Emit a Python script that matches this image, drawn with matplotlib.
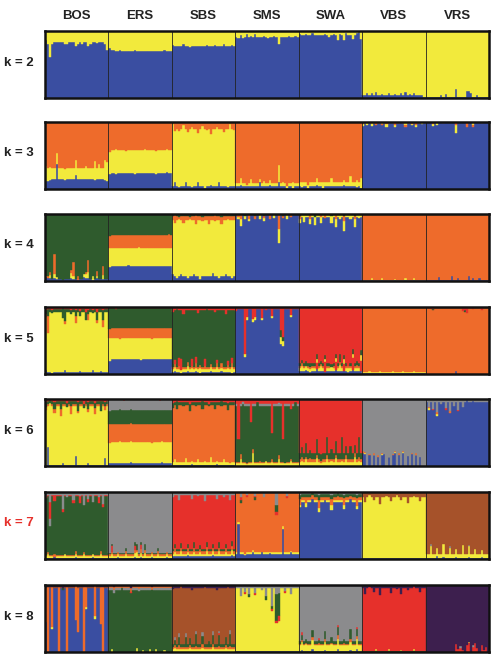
import matplotlib.pyplot as plt

plt.rcParams['font.family'] = ['Liberation Sans', 'DejaVu Sans']

pops = ["BOS", "ERS", "SBS", "SMS", "SWA", "VBS", "VRS"]
k_values = [2, 3, 4, 5, 6, 7, 8]
n_ind = 30  # individuals per population

colors = {
    "B": "#3a4ea1", "Y": "#f2ea3c", "O": "#ee6b2b", "G": "#2f5b2d",
    "R": "#e6302b", "E": "#8b8b8d", "N": "#a6522a", "P": "#3d1f4e",
}

# one entry per population:
# (bottom layers, filling cluster, top layers from the top down,
#  bottom layers of single individuals, top layers of single individuals)
k2 = [
    ("", "B", "Y.17", {},
     {0: "Y.13", 1: "Y.19", 2: "Y.39", 3: "Y.19", 6: "Y.16", 9: "Y.2", 10: "Y.2", 14: "Y.22",
      15: "Y.19", 17: "Y.2", 20: "Y.23", 21: "Y.19", 24: "Y.18", 28: "Y.19", 29: "Y.28"}),
    ("", "B", "Y.295", {},
     {0: "Y.26", 1: "Y.28", 2: "Y.28", 5: "Y.28", 9: "Y.3", 12: "Y.29", 20: "Y.3", 26: "Y.29"}),
    ("", "B", "Y.23", {},
     {0: "Y.21", 3: "Y.22", 5: "Y.2", 8: "Y.24", 12: "Y.22", 16: "Y.21", 20: "Y.21", 24: "Y.2", 28: "Y.21"}),
    ("", "B", "Y.09", {},
     {1: "Y.1", 2: "Y.06", 3: "Y.11", 5: "Y.04", 7: "Y.07", 9: "Y.05", 10: "Y.09", 13: "Y.07",
      15: "Y.1", 18: "Y.08", 20: "Y.19", 22: "Y.09", 25: "Y.08", 28: "Y.07"}),
    ("", "B", "Y.06", {},
     {0: "Y.04", 3: "Y.05", 6: "Y.03", 8: "Y.06", 12: "Y.04", 14: "Y.09", 16: "Y.04", 18: "Y.13",
      19: "Y.05", 21: "Y.13", 22: "Y.03", 24: "Y.06", 25: "Y.12", 27: "Y.03", 28: "Y.02", 29: "Y.12"}),
    ("B.04", "Y", "", {2: "B.08", 4: "B.07", 6: "B.09", 9: "B.06", 12: "B.07", 15: "B.06",
                       18: "B.08", 20: "B.09", 22: "B.06", 24: "B.08", 27: "B.05", 29: "B.02"}, {}),
    ("B.02", "Y", "", {7: "B.05", 9: "B.06", 14: "B.13", 19: "B.1", 20: "B.1", 21: "B.08", 24: "B.04"}, {}),
]

k3 = [
    ("B.15 Y.17", "O", "",
     {0: "B.12 Y.22", 1: "B.12 Y.2", 2: "B.13 Y.2", 5: "B.38 Y.15", 9: "B.14 Y.16", 14: "B.21 Y.22",
      19: "B.15 Y.2", 23: "B.14 Y.28", 25: "B.15 Y.22", 28: "B.13 Y.3", 29: "B.12 Y.28"}, {}),
    ("B.24 Y.34", "O", "",
     {0: "B.22 Y.33", 3: "B.23 Y.36", 8: "B.24 Y.33", 12: "B.23 Y.35", 17: "B.24 Y.36",
      22: "B.23 Y.34", 27: "B.25 Y.35"}, {}),
    ("B.05", "Y", "O.1",
     {1: "B.1", 3: "B.03", 6: "B.11", 9: "B.03", 12: "B.1", 15: "B.02", 18: "B.06", 22: "B.1",
      26: "B.03", 29: "B.04"},
     {0: "O.03", 1: "O.14", 3: "O.13", 5: "O.05", 7: "O.15", 9: "O.07", 12: "O.17", 14: "O.06",
      16: "O.12", 18: "O.18", 21: "O.08", 24: "O.15", 27: "O.03", 29: "O.12"}),
    ("B.05 Y.04", "O", "",
     {2: "B.06 Y.1", 5: "B.04 Y.02", 7: "B.05 Y.1", 11: "B.1 Y.05", 13: "B.04 Y.08", 16: "B.06 Y.08",
      20: "B.1 Y.26", 22: "B.05 Y.06", 24: "B.02 Y.02", 27: "B.02 Y.08"}, {}),
    ("B.04 Y.06", "O", "",
     {1: "B.03 Y.08", 4: "B.02 Y.04", 8: "B.06 Y.1", 11: "B.02 Y.08", 15: "B.05 Y.12", 18: "B.04 Y.06",
      21: "B.06 Y.08", 24: "B.05 Y.15", 27: "B.03 Y.1", 29: "B.02 Y.14"}, {}),
    ("", "B", "O.01 Y.01", {},
     {0: "O.03 Y.03", 2: "Y.05", 4: "O.02 Y.04", 6: "O.04", 9: "Y.03 O.02", 11: "O.03 Y.05",
      13: "Y.02", 15: "O.05 Y.03", 18: "O.02", 20: "Y.04 O.03", 23: "O.03 Y.02", 25: "O.04 Y.04", 28: "Y.03"}),
    ("", "B", "", {},
     {3: "O.03 Y.03", 5: "Y.05", 8: "O.02", 14: "O.04 Y.12", 19: "O.08", 22: "Y.05 O.03", 26: "O.02"}),
]

k4 = [
    ("B.03", "G", "",
     {0: "B.06 Y.02", 1: "B.05 O.02", 2: "B.04 Y.05 O.04", 4: "B.04 Y.06 O.3", 5: "B.03 Y.03",
      8: "B.02", 12: "B.04 Y.08 O.04", 13: "B.03 Y.05 O.2", 15: "B.02 O.06", 18: "B.06 Y.05",
      19: "B.04 Y.06 O.03", 20: "B.05 Y.08 O.18", 22: "B.02 Y.05", 24: "B.04 Y.03 O.08",
      27: "B.03 Y.06 O.13"}, {}),
    ("B.23 Y.27 O.19", "G", "",
     {0: "B.21 Y.29 O.17", 4: "B.22 Y.27 O.2", 9: "B.24 Y.26 O.19", 14: "B.23 Y.28 O.18",
      19: "B.22 Y.27 O.2", 24: "B.23 Y.26 O.19", 28: "B.22 Y.28 O.2"}, {}),
    ("B.07", "Y", "G.03 O.06",
     {0: "B.1", 2: "B.04", 4: "B.11", 7: "B.05", 10: "B.1", 13: "B.03", 16: "B.08", 19: "B.12",
      22: "B.04", 25: "B.1", 28: "B.05"},
     {1: "G.02 O.12", 3: "G.05 O.03", 5: "G.03 O.1", 8: "G.04 O.04", 11: "G.02 O.13", 14: "G.05 O.05",
      17: "G.03 O.12", 20: "G.02 O.08", 23: "G.04 O.11", 26: "G.03 O.04"}),
    ("", "B", "G.02", {},
     {1: "G.02 O.03 Y.03", 2: "G.02 O.06 Y.1", 4: "G.03 Y.04", 6: "G.02 O.05 Y.04", 9: "G.03 O.04",
      11: "G.02 Y.06", 13: "G.03 O.03 Y.04", 16: "G.02 O.05", 18: "G.02 Y.04", 20: "G.02 O.2 Y.22",
      22: "G.03 O.03", 24: "G.02 Y.05", 26: "G.01 O.03"}),
    ("", "B", "G.02 Y.02", {},
     {0: "G.03 O.04 Y.06", 2: "G.02 Y.1", 5: "G.02 O.05 Y.08", 7: "G.04 Y.12", 10: "G.02 O.03 Y.08",
      12: "G.02 O.04", 15: "G.03 Y.1", 17: "G.02 O.06 Y.12", 19: "G.02 Y.06", 21: "G.03 O.08 Y.14",
      24: "G.02 Y.05", 26: "G.03 O.04 Y.12", 28: "G.02 Y.04"}),
    ("B.01 Y.01", "O", "G.02", {4: "B.02 Y.02", 9: "B.01 Y.03", 15: "B.02 Y.01", 20: "B.01 Y.03",
                                 24: "B.02 Y.02"}, {}),
    ("B.01", "O", "G.01", {6: "B.06", 12: "B.07", 15: "B.05", 20: "B.07", 22: "B.04", 25: "B.05"}, {}),
]

k5 = [
    ("B.03", "Y", "R.03 G.05",
     {0: "B.06", 3: "B.02", 9: "B.06", 16: "B.05", 22: "B.06", 26: "B.04"},
     {0: "R.04 G.06 O.05", 1: "R.03 G.1 O.26", 3: "R.05 G.04", 8: "R.02 G.15", 9: "R.03 G.18 O.04",
      12: "R.04 G.07", 14: "R.04 G.1 O.1", 16: "R.06 G.08", 19: "R.08 G.12", 20: "R.05 G.06 O.08",
      22: "R.05 G.04", 24: "R.07 G.12 O.05", 27: "R.05 G.15 O.1", 29: "R.03 G.05"}),
    ("B.22 Y.31 O.15", "G", "R.01",
     {0: "B.2 Y.33 O.14", 5: "B.22 Y.3 O.16", 10: "B.23 Y.31 O.14", 15: "B.21 Y.32 O.15",
      20: "B.22 Y.3 O.16", 25: "B.23 Y.31 O.14"}, {3: "R.03", 17: "R.02"}),
    ("B.03 Y.04 O.03", "G", "R.05",
     {1: "B.04 Y.06 O.05 R.06", 3: "B.03 Y.05 O.04 R.12", 4: "B.02 Y.04 R.16", 7: "B.04 Y.08 O.06",
      9: "B.03 Y.06 O.03 R.1", 11: "B.04 Y.05 O.08 R.08", 13: "B.02 Y.07 O.05", 15: "B.03 Y.05 O.04 R.1",
      18: "B.05 Y.06 O.04", 21: "B.03 Y.07 O.06 R.05", 23: "B.04 Y.05 O.08", 26: "B.03 Y.06 O.04 R.06",
      28: "B.02 Y.08 O.06 R.08"},
     {0: "R.08", 2: "R.03", 5: "R.1", 8: "R.04", 12: "R.09", 16: "R.03", 20: "R.08", 25: "R.1"}),
    ("", "B", "R.03", {},
     {0: "R.06", 4: "R.7 Y.05", 5: "R.15 Y.05", 8: "R.18 Y.04", 9: "R.15 Y.04", 12: "R.16 Y.04",
      14: "R.05", 17: "R.13 Y.04", 21: "R.35 G.1 Y.1", 22: "R.45 G.05 Y.08", 26: "R.12 Y.03"}),
    ("B.05 Y.04 O.03 G.04", "R", "",
     {1: "B.04 Y.08 O.04 G.05", 3: "B.06 Y.06 G.08", 5: "B.03 Y.05 O.02 G.06", 8: "B.08 R.08 Y.06 G.08",
      10: "B.04 Y.08 O.03 G.05", 12: "B.03 R.15 Y.05 G.05", 15: "B.05 Y.06 G.04", 17: "B.06 R.12 Y.06 G.06",
      19: "B.04 Y.1 O.04 G.12", 21: "B.05 R.1 Y.08 G.06", 23: "B.03 Y.06 O.03", 25: "B.06 R.18 Y.06 G.08",
      27: "B.04 Y.05 O.04 G.06", 29: "B.05 R.15 Y.08 G.08"}, {}),
    ("B.01 Y.02", "O", "G.02", {3: "B.02 Y.03", 8: "B.01 Y.04", 14: "B.02 Y.03", 19: "B.01 Y.04",
                                 24: "B.02 Y.02"}, {}),
    ("", "O", "R.01 G.01", {14: "B.05"},
     {3: "R.03 G.02", 17: "R.06", 18: "R.04 G.03", 19: "R.09", 22: "R.03", 26: "R.05"}),
]

k6 = [
    ("B.02", "Y", "R.03 G.05 O.03",
     {1: "B.28", 8: "B.05", 14: "B.15", 20: "B.04", 28: "B.12"},
     {0: "R.04 G.08 O.04", 2: "R.02 G.04", 4: "R.05 G.1 O.06", 7: "R.03 G.12 O.1", 10: "R.06 G.06",
      12: "R.03 G.08 O.12", 15: "R.04 G.14 O.03", 18: "R.08 G.06", 20: "R.05 G.1 O.05",
      23: "R.06 G.08 O.08", 26: "R.03 G.15", 28: "R.05 G.06 O.05"}),
    ("B.05 Y.31 O.26 G.22", "E", "",
     {0: "B.04 Y.3 O.28 G.2", 5: "B.05 Y.32 O.25 G.23", 10: "B.06 Y.31 O.27 G.21",
      15: "B.04 Y.32 O.26 G.22", 20: "B.05 Y.3 O.27 G.22", 25: "B.06 Y.31 O.26 G.21"},
     {2: "R.02", 7: "R.03", 12: "R.02", 18: "R.02", 24: "R.03"}),
    ("B.02 Y.04", "O", "R.04 G.05",
     {1: "B.02 Y.08", 3: "B.01 Y.05", 6: "B.02 Y.1", 9: "B.03 Y.04", 12: "B.02 Y.09", 15: "B.01 Y.06",
      18: "B.02 Y.11", 21: "B.03 Y.05", 24: "B.02 Y.08", 27: "B.01 Y.04"},
     {0: "R.06 G.08", 2: "R.03 G.12", 5: "R.05 G.05", 8: "R.08 G.1", 11: "R.04 G.06", 14: "R.03 G.12",
      17: "R.07 G.04", 20: "R.05 G.1", 23: "R.03 G.07", 26: "R.06 G.1", 29: "R.04 G.05"}),
    ("Y.04 O.02", "G", "R.08 E.02",
     {2: "Y.1 O.08", 5: "Y.03 O.02", 8: "Y.2 O.05", 11: "Y.05 O.03", 14: "Y.08", 17: "Y.06 O.04",
      20: "Y.1 O.06", 23: "Y.04", 26: "Y.07 O.03"},
     {1: "R.6", 3: "R.05 E.03", 7: "R.35", 10: "R.04", 17: "R.5", 20: "R.06 E.04", 22: "R.6",
      26: "R.15", 28: "R.04"}),
    ("Y.06 O.04 G.1", "R", "E.01",
     {1: "Y.08 O.05 G.15", 3: "Y.1 O.03 G.22", 5: "Y.06 O.06 G.12", 8: "Y.12 O.04 G.25",
      10: "Y.05 O.03 G.1", 13: "Y.1 O.06 G.28", 15: "Y.07 O.04 G.14", 17: "Y.12 O.05 G.2",
      20: "Y.08 O.03 G.32", 22: "Y.1 O.06 G.14", 24: "Y.06 O.04 G.2", 26: "Y.14 O.05 G.12",
      28: "Y.08 O.06 G.3"}, {}),
    ("", "E", "",
     {0: "B.2 O.02", 1: "B.18 Y.01 O.02", 3: "B.17 O.01", 5: "B.16 Y.01 O.02", 7: "B.14 O.02",
      9: "B.16 Y.02 O.02", 10: "B.18", 12: "B.13 Y.01", 14: "B.16 O.02", 15: "B.19 Y.02 O.02",
      17: "B.17 O.02", 19: "B.2 Y.01 O.02", 21: "B.15", 23: "B.18 O.02", 25: "B.16 Y.01 O.02", 27: "B.14"},
     {}),
    ("", "B", "E.04",
     {},
     {1: "E.12 O.02 Y.02", 3: "E.15 R.02", 5: "E.2 O.03 Y.02", 7: "E.08", 9: "E.14 R.03", 11: "E.18 O.03",
      13: "E.1", 15: "E.16 R.02", 17: "E.12", 19: "E.02", 22: "E.03"}),
]

k7 = [
    ("B.02 Y.02 O.02", "G", "E.04 R.02",
     {1: "B.02 Y.05 O.04", 4: "B.03 O.05", 9: "B.02 Y.06", 14: "B.03 Y.04 O.05", 18: "B.02 Y.06 O.03",
      22: "B.03 Y.05", 26: "B.02 Y.06 O.04"},
     {0: "E.06 R.03", 2: "E.15 R.25 E.1", 4: "E.05 R.08", 8: "E.25 R.05", 10: "E.08", 13: "E.12 R.04",
      16: "E.06 R.1", 18: "E.2", 20: "E.1 R.05", 22: "E.15", 25: "E.08 R.08", 27: "E.18 R.04"}),
    ("B.02 Y.03 O.02 G.02", "E", "O.01",
     {1: "B.02 Y.05 O.04 R.08 G.04", 4: "B.03 Y.04 O.03", 8: "B.02 Y.06 O.04 G.05",
      12: "B.03 Y.06 O.05 R.05 G.06", 13: "B.02 Y.08 O.04 G.08", 15: "B.03 Y.06 O.06 R.06 G.05",
      17: "B.02 Y.07 O.04 G.1", 20: "B.03 Y.05 O.03", 23: "B.02 Y.06 O.04 G.05", 27: "B.03 Y.04 O.03"},
     {}),
    ("B.04 Y.04 O.04 G.03", "R", "E.05",
     {1: "B.05 Y.06 O.05 G.06", 4: "B.04 Y.08 O.04 G.08", 7: "B.06 Y.05 O.06 G.05",
      10: "B.04 Y.07 O.05 G.1", 13: "B.05 Y.06 O.04 G.06", 16: "B.04 Y.08 O.06 G.08",
      19: "B.06 Y.06 O.05 G.05", 22: "B.05 Y.07 O.04 G.1", 25: "B.04 Y.06 O.06 G.07", 28: "B.06 Y.08 O.05 G.08"},
     {0: "E.08", 3: "E.12", 6: "E.04", 9: "E.1", 12: "E.06", 15: "E.14", 18: "E.05", 21: "E.1", 24: "E.07", 27: "E.12"}),
    ("B.08 Y.02", "O", "E.01",
     {1: "B.52 Y.03", 4: "B.06 Y.02", 8: "B.1 Y.03", 12: "B.11", 16: "B.09 Y.02", 22: "B.45 Y.04",
      26: "B.1 Y.02"},
     {2: "E.08 R.04 G.05", 5: "E.04 R.03", 9: "E.06 R.02 G.04", 13: "E.08", 19: "E.2 G.1 R.05", 24: "E.06 R.03"}),
    ("", "B", "E.03 G.04 O.05 Y.03",
     {},
     {0: "E.05 G.06 O.08 Y.04", 3: "E.03 G.04 O.1 Y.05", 6: "E.02 G.03 O.06", 9: "E.04 G.08 O.12 Y.06",
      12: "E.03 G.05 O.04", 15: "E.05 G.06 O.08 Y.08", 18: "E.02 G.04 O.06 Y.03",
      21: "E.04 G.05 O.1 Y.06", 24: "E.03 G.03 O.05", 27: "E.05 G.04 O.12 Y.05"}),
    ("B.01", "Y", "N.08",
     {},
     {1: "N.15", 3: "N.04", 5: "N.12", 8: "N.18", 11: "N.06", 13: "N.14", 16: "N.05", 18: "N.12",
      21: "N.16", 24: "N.06", 27: "N.14"}),
    ("B.02 Y.05", "N", "",
     {2: "B.02 Y.18 E.02", 5: "B.04 Y.12", 8: "B.03 Y.2", 11: "B.02 Y.15 E.02", 14: "B.03 Y.12",
      17: "B.02 Y.19", 20: "B.03 Y.16 E.02", 23: "B.02 Y.13", 26: "B.03 Y.1"}, {}),
]

k8 = [
    ("", "B", "P.03 N.02",
     {0: "B.45 O.5", 1: "O.97", 6: "O.97", 10: "O.97", 15: "B.3 O.65", 18: "O.97", 27: "O.97"},
     {1: "P.03", 6: "P.03", 10: "P.03", 18: "P.03", 27: "P.03", 3: "P.03 O.6 Y.03",
      14: "P.02 O.5", 19: "P.03 O.3 Y.03", 23: "P.02 O.45 Y.04", 26: "P.03 O.55", 8: "P.04 G.04"}),
    ("", "G", "P.02 O.03 E.02",
     {1: "Y.04", 13: "Y.06", 16: "Y.03", 19: "Y.05", 22: "Y.04", 26: "Y.03"},
     {2: "P.03 O.05 E.04", 6: "P.02 O.02", 10: "P.04 O.06 R.02", 14: "P.02 O.04 E.03", 20: "P.03 O.05"}),
    ("Y.04 O.03 G.05", "N", "P.04",
     {1: "Y.06 O.04 G.08 E.04", 3: "Y.05 O.05 G.12 E.06", 6: "Y.04 O.03 G.16 E.05",
      8: "Y.06 O.05 G.1", 11: "Y.05 O.04 G.18 E.05", 14: "Y.06 O.06 G.12 E.06", 17: "Y.04 O.03 G.1",
      19: "Y.07 O.05 G.14 E.05", 22: "Y.05 O.04 G.16 R.03 E.04", 25: "Y.06 O.05 G.12",
      27: "Y.05 O.04 G.18 E.06"},
     {0: "P.06", 4: "P.02", 9: "P.07", 15: "P.03", 21: "P.08", 26: "P.03"}),
    ("B.01", "Y", "P.01 E.04",
     {},
     {2: "P.01 E.15", 4: "P.02 E.08 R.04", 6: "P.01 E.12 G.05", 9: "P.02 E.1 R.03", 12: "P.01 E.06",
      14: "P.02 E.14 G.06", 17: "P.01 E.3 G.05 R.03", 19: "P.01 E.12 G.4 R.04", 20: "P.02 E.1 G.35 R.06",
      23: "P.01 E.08 R.03", 26: "P.02 E.12"}),
    ("B.02 Y.08 O.02 G.05", "E", "P.02",
     {1: "B.03 Y.12 O.03 G.08 R.04", 3: "B.02 Y.1 O.02 G.06", 6: "B.04 Y.14 O.05 G.1",
      9: "B.02 Y.08 O.03 G.05 R.03", 12: "B.03 Y.12 O.04 G.12", 15: "B.02 Y.1 O.02 G.08",
      18: "B.04 Y.16 O.05 G.12 R.04", 21: "B.02 Y.09 O.03 G.06", 24: "B.03 Y.12 O.04 G.16",
      27: "B.05 Y.14 O.05 G.1 R.03"}, {}),
    ("G.01 Y.01", "R", "P.05",
     {6: "G.02 Y.02", 12: "G.02 Y.03", 18: "G.01 Y.02", 24: "G.02 Y.02"},
     {1: "P.13", 3: "P.03", 5: "P.1", 8: "P.15", 10: "P.04", 13: "P.12", 16: "P.06", 18: "P.14",
      21: "P.08", 24: "P.02", 27: "P.1"}),
    ("", "P", "",
     {14: "R.12", 15: "R.05", 16: "R.06 E.03", 17: "R.03", 19: "R.1", 20: "R.13 Y.02", 22: "R.08 E.02",
      23: "R.14", 24: "R.06", 26: "R.1", 27: "R.03", 28: "R.07"}, {}),
]

panels = [k2, k3, k4, k5, k6, k7, k8]
k_colors = ["#222222"] * 5 + ["#e6302b", "#222222"]
panel_tops = [31, 122, 214, 307, 399, 492, 585]  # pixels from figure top
panel_h = 67

W, H = 498, 654


def layers(s):
    return [(t[0], float(t[1:])) for t in s.split()]


def columns(spec):
    bot, fill, top, bsp, tsp = spec
    out = []
    for i in range(n_ind):
        b = layers(bsp.get(i, bot))
        t = layers(tsp.get(i, top))
        rest = max(0.0, 1.0 - sum(f for _, f in b) - sum(f for _, f in t))
        out.append(b + [(fill, rest)] + t[::-1])
    return out


fig = plt.figure(figsize=(W / 100, H / 100), dpi=100)

for n, (k, spec_list) in enumerate(zip(k_values, panels)):
    top_px = panel_tops[n]
    ax = fig.add_axes([45 / W, 1 - (top_px + panel_h) / H, 444 / W, panel_h / H])
    segs = {c: ([], [], []) for c in colors}
    for p, spec in enumerate(spec_list):
        for i, col in enumerate(columns(spec)):
            y0 = 0.0
            for c, f in col:
                if f > 0:
                    segs[c][0].append(p * n_ind + i)
                    segs[c][1].append(f)
                    segs[c][2].append(y0)
                y0 += f
    for c, (xs, hs, bs) in segs.items():
        if xs:
            ax.bar(xs, hs, bottom=bs, width=1.0, color=colors[c], edgecolor=colors[c], linewidth=0.3)
    for p in range(1, len(pops)):
        ax.axvline(p * n_ind - 0.5, color="#222222", lw=0.6)
    ax.set_xlim(-0.5, len(pops) * n_ind - 0.5)
    ax.set_ylim(0, 1)
    ax.set_xticks([])
    ax.set_yticks([])
    for s in ax.spines.values():
        s.set_linewidth(1.8)
        s.set_color("#111111")
    fig.text(19 / W, 1 - (top_px + panel_h / 2 - 2) / H, f"k = {k}", ha="center", va="center",
             fontsize=9.5, fontweight="bold", color=k_colors[n])

for p, name in enumerate(pops):
    fig.text((45 + 444 * (p + 0.5) / len(pops)) / W, 1 - 16 / H, name, ha="center", va="center",
             fontsize=9.5, fontweight="bold", color="#222222")

fig.savefig("out.png", dpi=100)
